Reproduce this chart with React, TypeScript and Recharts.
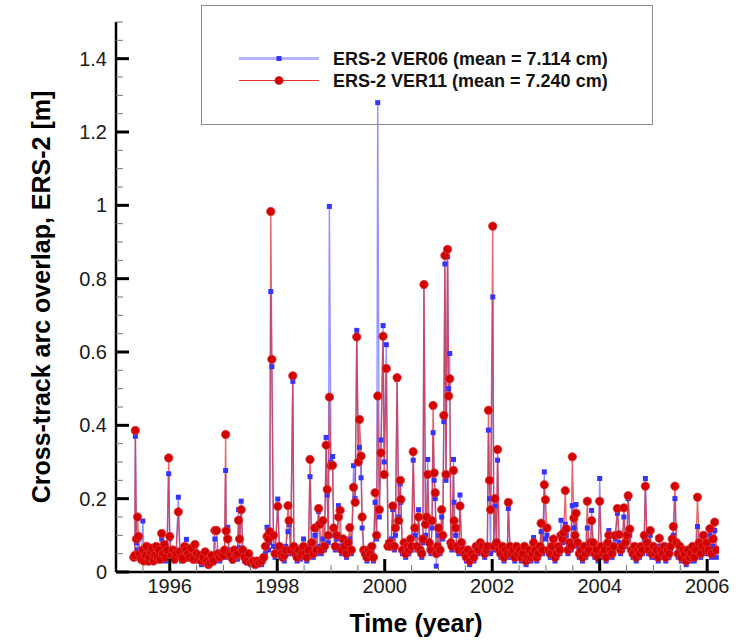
import React from 'react';
import { LineChart, Line, XAxis, YAxis, Label } from 'recharts';

// observation epochs (decimal year), one row per year
const years = [
  1995.33, 1995.35, 1995.36, 1995.38, 1995.40, 1995.42, 1995.44, 1995.47, 1995.50, 1995.52, 1995.55, 1995.57, 1995.60, 1995.62, 1995.65, 1995.67, 1995.70, 1995.72, 1995.75, 1995.77, 1995.80, 1995.82, 1995.85, 1995.87, 1995.90, 1995.92, 1995.95, 1995.98,
  1996.00, 1996.03, 1996.06, 1996.09, 1996.12, 1996.16, 1996.19, 1996.22, 1996.25, 1996.28, 1996.31, 1996.34, 1996.37, 1996.40, 1996.44, 1996.47, 1996.50, 1996.53, 1996.56, 1996.59, 1996.62, 1996.66, 1996.69, 1996.72, 1996.75, 1996.78, 1996.81, 1996.84, 1996.87, 1996.90, 1996.93, 1996.96,
  1997.00, 1997.02, 1997.04, 1997.05, 1997.08, 1997.11, 1997.14, 1997.17, 1997.20, 1997.23, 1997.26, 1997.28, 1997.30, 1997.33, 1997.36, 1997.39, 1997.43, 1997.47, 1997.51, 1997.55, 1997.59, 1997.63, 1997.67, 1997.71, 1997.75, 1997.78, 1997.81, 1997.84, 1997.86, 1997.88, 1997.90, 1997.93, 1997.96,
  1998.01, 1998.04, 1998.07, 1998.10, 1998.13, 1998.16, 1998.20, 1998.22, 1998.25, 1998.29, 1998.31, 1998.34, 1998.37, 1998.40, 1998.43, 1998.46, 1998.49, 1998.52, 1998.55, 1998.58, 1998.61, 1998.64, 1998.67, 1998.70, 1998.73, 1998.77, 1998.79, 1998.82, 1998.85, 1998.88, 1998.91, 1998.93, 1998.95, 1998.97,
  1999.00, 1999.03, 1999.05, 1999.08, 1999.11, 1999.14, 1999.17, 1999.20, 1999.23, 1999.26, 1999.29, 1999.32, 1999.35, 1999.38, 1999.42, 1999.45, 1999.48, 1999.51, 1999.53, 1999.56, 1999.58, 1999.61, 1999.64, 1999.67, 1999.70, 1999.73, 1999.76, 1999.79, 1999.82, 1999.85, 1999.87, 1999.90, 1999.93, 1999.97, 1999.99,
  2000.03, 2000.06, 2000.09, 2000.12, 2000.15, 2000.18, 2000.20, 2000.23, 2000.26, 2000.29, 2000.30, 2000.33, 2000.36, 2000.39, 2000.42, 2000.45, 2000.48, 2000.50, 2000.53, 2000.56, 2000.60, 2000.63, 2000.66, 2000.69, 2000.71, 2000.73, 2000.76, 2000.78, 2000.80, 2000.83, 2000.86, 2000.88, 2000.90, 2000.92, 2000.94, 2000.96, 2000.98,
  2001.00, 2001.03, 2001.06, 2001.08, 2001.10, 2001.12, 2001.14, 2001.17, 2001.19, 2001.21, 2001.23, 2001.25, 2001.28, 2001.29, 2001.32, 2001.35, 2001.38, 2001.40, 2001.43, 2001.46, 2001.49, 2001.52, 2001.55, 2001.58, 2001.62, 2001.66, 2001.70, 2001.74, 2001.78, 2001.82, 2001.86, 2001.89, 2001.91, 2001.93, 2001.95, 2001.97,
  2002.01, 2002.03, 2002.05, 2002.08, 2002.10, 2002.13, 2002.16, 2002.19, 2002.22, 2002.25, 2002.28, 2002.30, 2002.33, 2002.36, 2002.39, 2002.42, 2002.45, 2002.48, 2002.51, 2002.54, 2002.57, 2002.60, 2002.63, 2002.66, 2002.69, 2002.72, 2002.75, 2002.77, 2002.80, 2002.83, 2002.86, 2002.89, 2002.91, 2002.94, 2002.97, 2002.99,
  2003.02, 2003.05, 2003.08, 2003.11, 2003.14, 2003.17, 2003.20, 2003.23, 2003.26, 2003.28, 2003.31, 2003.33, 2003.36, 2003.38, 2003.41, 2003.44, 2003.47, 2003.49, 2003.52, 2003.54, 2003.56, 2003.59, 2003.62, 2003.65, 2003.68, 2003.71, 2003.74, 2003.77, 2003.80, 2003.83, 2003.85, 2003.88, 2003.91, 2003.94, 2003.97,
  2004.00, 2004.03, 2004.06, 2004.09, 2004.12, 2004.15, 2004.17, 2004.20, 2004.23, 2004.26, 2004.29, 2004.33, 2004.36, 2004.39, 2004.42, 2004.45, 2004.48, 2004.51, 2004.53, 2004.56, 2004.59, 2004.62, 2004.65, 2004.68, 2004.71, 2004.74, 2004.77, 2004.80, 2004.83, 2004.85, 2004.88, 2004.91, 2004.94, 2004.97,
  2005.00, 2005.03, 2005.06, 2005.09, 2005.11, 2005.14, 2005.17, 2005.20, 2005.23, 2005.26, 2005.29, 2005.32, 2005.35, 2005.37, 2005.40, 2005.43, 2005.46, 2005.49, 2005.52, 2005.55, 2005.58, 2005.61, 2005.64, 2005.67, 2005.70, 2005.73, 2005.76, 2005.79, 2005.82, 2005.85, 2005.88, 2005.91, 2005.93, 2005.96, 2005.99,
  2006.02, 2006.05, 2006.08, 2006.11, 2006.14, 2006.17,
];

// ERS-2 VER06 overlap [m]
const ver06 = [
  0.045, 0.04, 0.37, 0.08, 0.06, 0.09, 0.04, 0.03, 0.139, 0.05, 0.03, 0.06, 0.04, 0.025, 0.05, 0.07, 0.035, 0.03, 0.06, 0.045, 0.05, 0.03, 0.09, 0.04, 0.06, 0.03, 0.05, 0.268,
  0.09, 0.04, 0.05, 0.03, 0.06, 0.204, 0.05, 0.03, 0.04, 0.06, 0.089, 0.04, 0.035, 0.05, 0.03, 0.06, 0.045, 0.03, 0.04, 0.02, 0.035, 0.05, 0.025, 0.02, 0.03, 0.04, 0.025, 0.09, 0.05, 0.045, 0.03, 0.04,
  0.05, 0.04, 0.277, 0.09, 0.122, 0.04, 0.06, 0.03, 0.05, 0.04, 0.035, 0.17, 0.066, 0.193, 0.05, 0.03, 0.025, 0.04, 0.02, 0.03, 0.025, 0.02, 0.03, 0.02, 0.035, 0.05, 0.122, 0.06, 0.08, 0.765, 0.56, 0.07, 0.04,
  0.199, 0.06, 0.04, 0.05, 0.03, 0.07, 0.11, 0.13, 0.05, 0.52, 0.06, 0.04, 0.03, 0.05, 0.035, 0.04, 0.09, 0.04, 0.03, 0.05, 0.26, 0.06, 0.04, 0.1, 0.05, 0.165, 0.07, 0.05, 0.09, 0.06, 0.367, 0.21, 0.08, 0.997,
  0.3, 0.315, 0.1, 0.06, 0.09, 0.181, 0.07, 0.05, 0.08, 0.06, 0.04, 0.07, 0.09, 0.05, 0.29, 0.2, 0.659, 0.3, 0.34, 0.257, 0.12, 0.05, 0.04, 0.03, 0.05, 0.04, 0.06, 0.03, 0.19, 0.09, 1.28, 0.15, 0.36, 0.672, 0.3,
  0.62, 0.08, 0.07, 0.09, 0.17, 0.06, 0.1, 0.525, 0.15, 0.24, 0.19, 0.05, 0.07, 0.04, 0.06, 0.05, 0.08, 0.06, 0.305, 0.1, 0.06, 0.17, 0.05, 0.04, 0.08, 0.78, 0.1, 0.14, 0.307, 0.07, 0.05, 0.12, 0.38, 0.25, 0.2, 0.016, 0.06,
  0.1, 0.05, 0.15, 0.09, 0.41, 0.84, 0.25, 0.86, 0.5, 0.596, 0.08, 0.06, 0.307, 0.19, 0.1, 0.06, 0.05, 0.21, 0.07, 0.05, 0.04, 0.03, 0.05, 0.02, 0.04, 0.03, 0.06, 0.05, 0.07, 0.06, 0.04, 0.05, 0.06, 0.387, 0.2, 0.05,
  0.75, 0.06, 0.18, 0.07, 0.305, 0.05, 0.04, 0.06, 0.03, 0.05, 0.04, 0.173, 0.06, 0.04, 0.05, 0.03, 0.06, 0.04, 0.05, 0.03, 0.04, 0.06, 0.02, 0.03, 0.05, 0.03, 0.04, 0.094, 0.05, 0.03, 0.04, 0.06, 0.11, 0.05, 0.273, 0.09,
  0.1, 0.05, 0.04, 0.06, 0.05, 0.03, 0.04, 0.06, 0.05, 0.141, 0.08, 0.09, 0.13, 0.1, 0.05, 0.07, 0.06, 0.181, 0.12, 0.09, 0.184, 0.07, 0.04, 0.05, 0.03, 0.06, 0.04, 0.12, 0.05, 0.07, 0.168, 0.06, 0.04, 0.05, 0.03,
  0.255, 0.06, 0.04, 0.05, 0.03, 0.07, 0.113, 0.05, 0.04, 0.06, 0.09, 0.16, 0.08, 0.05, 0.06, 0.15, 0.07, 0.09, 0.2, 0.1, 0.05, 0.04, 0.06, 0.03, 0.05, 0.04, 0.06, 0.05, 0.09, 0.255, 0.07, 0.05, 0.1, 0.04,
  0.06, 0.04, 0.05, 0.03, 0.07, 0.05, 0.04, 0.06, 0.03, 0.05, 0.04, 0.06, 0.08, 0.1, 0.2, 0.05, 0.04, 0.06, 0.03, 0.05, 0.04, 0.02, 0.05, 0.03, 0.04, 0.06, 0.03, 0.05, 0.124, 0.07, 0.04, 0.06, 0.08, 0.05, 0.07,
  0.05, 0.1, 0.04, 0.07, 0.113, 0.04,
];

// ERS-2 VER11 overlap [m]
const ver11 = [
  0.04, 0.045, 0.386, 0.09, 0.15, 0.097, 0.05, 0.035, 0.06, 0.03, 0.045, 0.07, 0.03, 0.04, 0.055, 0.065, 0.03, 0.045, 0.07, 0.04, 0.06, 0.035, 0.105, 0.05, 0.075, 0.04, 0.06, 0.311,
  0.097, 0.045, 0.06, 0.035, 0.05, 0.164, 0.055, 0.04, 0.035, 0.07, 0.06, 0.05, 0.04, 0.065, 0.035, 0.075, 0.05, 0.035, 0.045, 0.03, 0.04, 0.055, 0.03, 0.02, 0.025, 0.045, 0.03, 0.113, 0.113, 0.05, 0.04, 0.05,
  0.045, 0.06, 0.375, 0.112, 0.09, 0.05, 0.045, 0.035, 0.06, 0.045, 0.05, 0.141, 0.09, 0.17, 0.06, 0.04, 0.03, 0.05, 0.025, 0.03, 0.02, 0.03, 0.025, 0.03, 0.04, 0.07, 0.097, 0.09, 0.11, 0.983, 0.58, 0.1, 0.05,
  0.179, 0.07, 0.05, 0.04, 0.045, 0.06, 0.181, 0.14, 0.06, 0.535, 0.07, 0.05, 0.04, 0.06, 0.045, 0.05, 0.07, 0.05, 0.04, 0.06, 0.307, 0.08, 0.05, 0.12, 0.06, 0.173, 0.13, 0.06, 0.14, 0.07, 0.346, 0.225, 0.1, 0.477,
  0.29, 0.291, 0.12, 0.07, 0.1, 0.15, 0.168, 0.06, 0.09, 0.07, 0.05, 0.08, 0.121, 0.06, 0.231, 0.19, 0.641, 0.3, 0.416, 0.316, 0.15, 0.06, 0.05, 0.04, 0.06, 0.05, 0.07, 0.04, 0.216, 0.1, 0.48, 0.17, 0.325, 0.643, 0.266,
  0.555, 0.07, 0.08, 0.07, 0.18, 0.07, 0.12, 0.53, 0.14, 0.25, 0.198, 0.06, 0.08, 0.05, 0.07, 0.06, 0.09, 0.07, 0.328, 0.12, 0.07, 0.15, 0.06, 0.05, 0.09, 0.784, 0.13, 0.15, 0.266, 0.08, 0.06, 0.14, 0.454, 0.27, 0.216, 0.05, 0.07,
  0.12, 0.06, 0.17, 0.1, 0.427, 0.863, 0.266, 0.88, 0.48, 0.527, 0.08, 0.07, 0.277, 0.14, 0.12, 0.07, 0.06, 0.18, 0.08, 0.06, 0.05, 0.04, 0.06, 0.03, 0.05, 0.04, 0.07, 0.06, 0.08, 0.07, 0.05, 0.06, 0.07, 0.441, 0.25, 0.17,
  0.943, 0.07, 0.2, 0.08, 0.334, 0.06, 0.05, 0.07, 0.04, 0.06, 0.05, 0.19, 0.07, 0.05, 0.06, 0.04, 0.07, 0.05, 0.06, 0.04, 0.05, 0.07, 0.03, 0.04, 0.06, 0.04, 0.05, 0.08, 0.06, 0.04, 0.05, 0.07, 0.133, 0.06, 0.238, 0.197,
  0.12, 0.06, 0.05, 0.07, 0.09, 0.04, 0.05, 0.07, 0.06, 0.1, 0.09, 0.107, 0.222, 0.118, 0.06, 0.08, 0.07, 0.314, 0.147, 0.1, 0.16, 0.08, 0.05, 0.06, 0.04, 0.07, 0.05, 0.193, 0.06, 0.08, 0.14, 0.08, 0.05, 0.06, 0.04,
  0.193, 0.07, 0.05, 0.06, 0.04, 0.08, 0.1, 0.06, 0.05, 0.07, 0.1, 0.173, 0.102, 0.06, 0.07, 0.175, 0.08, 0.1, 0.208, 0.117, 0.06, 0.05, 0.07, 0.04, 0.06, 0.05, 0.07, 0.06, 0.1, 0.234, 0.08, 0.06, 0.113, 0.05,
  0.07, 0.05, 0.06, 0.04, 0.092, 0.06, 0.05, 0.07, 0.04, 0.06, 0.05, 0.07, 0.09, 0.124, 0.234, 0.08, 0.05, 0.07, 0.04, 0.06, 0.05, 0.03, 0.06, 0.04, 0.05, 0.07, 0.04, 0.06, 0.204, 0.08, 0.05, 0.07, 0.1, 0.06, 0.08,
  0.06, 0.118, 0.05, 0.09, 0.136, 0.06,
];

const xTicks = [1995.5, 1996, 1996.5, 1997, 1997.5, 1998, 1998.5, 1999, 1999.5, 2000, 2000.5, 2001, 2001.5, 2002, 2002.5, 2003, 2003.5, 2004, 2004.5, 2005, 2005.5, 2006];
const xMajor = [1996, 1998, 2000, 2002, 2004, 2006];
const yTicks = [0, 0.05, 0.1, 0.15, 0.2, 0.25, 0.3, 0.35, 0.4, 0.45, 0.5, 0.55, 0.6, 0.65, 0.7, 0.75, 0.8, 0.85, 0.9, 0.95, 1, 1.05, 1.1, 1.15, 1.2, 1.25, 1.3, 1.35, 1.4, 1.45, 1.5];
const yMajor = [0, 0.2, 0.4, 0.6, 0.8, 1, 1.2, 1.4];

const legendNames = ['ERS-2 VER06 (mean = 7.114 cm)', 'ERS-2 VER11 (mean = 7.240 cm)'];

const FONT = '"Liberation Sans", Arial, Helvetica, sans-serif';
const BLUE_LINE = '#6f6fff';
const BLUE_DOT = '#3434ff';
const RED_LINE = '#dc2a2a';
const RED_DOT = '#d20000';

const data = years.map((t, i) => ({ t, v06: ver06[i], v11: ver11[i] }));

const XTick = ({ x, y, payload }: any) => {
  const major = xMajor.includes(payload.value);
  return (
    <g>
      <line x1={x} x2={x} y1={y} y2={y - (major ? 13 : 7)} stroke={major ? '#000' : '#777'} strokeWidth={major ? 3 : 1} />
      {major && (
        <text x={x} y={y + 21} textAnchor="middle" fontSize={20} fill="#1a1a1a" fontFamily={FONT}>
          {payload.value}
        </text>
      )}
    </g>
  );
};

const YTick = ({ x, y, payload }: any) => {
  const major = yMajor.includes(payload.value);
  return (
    <g>
      <line x1={x} x2={x + (major ? 13 : 7)} y1={y} y2={y} stroke={major ? '#000' : '#777'} strokeWidth={major ? 3 : 1} />
      {major && (
        <text x={x - 9} y={y + 7} textAnchor="end" fontSize={20} fill="#1a1a1a" fontFamily={FONT}>
          {String(payload.value)}
        </text>
      )}
    </g>
  );
};

const blueDot = (p: any) => {
  if (p.cx == null || p.cy == null) return <g key={`b${p.index}`} />;
  return <rect key={`b${p.index}`} x={p.cx - 2.5} y={p.cy - 2.5} width={5} height={5} fill={BLUE_DOT} />;
};

const redDot = (p: any) => {
  if (p.cx == null || p.cy == null) return <g key={`r${p.index}`} />;
  return <circle key={`r${p.index}`} cx={p.cx} cy={p.cy} r={4.2} fill={RED_DOT} stroke="#e03a3a" strokeWidth={0.8} />;
};

export default function App() {
  return (
    <div style={{ position: 'absolute', left: 0, top: 0, width: 741, height: 640, background: '#fff' }}>
      <LineChart width={741} height={640} data={data} margin={{ top: 22, right: 22, bottom: 0, left: 110 }}>
        <Line
          dataKey="v06"
          type="linear"
          stroke={BLUE_LINE}
          strokeOpacity={0.75}
          strokeWidth={1.4}
          dot={blueDot}
          activeDot={false}
          isAnimationActive={false}
        />
        <Line
          dataKey="v11"
          type="linear"
          stroke={RED_LINE}
          strokeOpacity={0.7}
          strokeWidth={1.4}
          dot={redDot}
          activeDot={false}
          isAnimationActive={false}
        />
        <XAxis
          dataKey="t"
          type="number"
          domain={[1995, 2006.22]}
          ticks={xTicks}
          interval={0}
          tickSize={0}
          tickMargin={0}
          tickLine={false}
          tick={<XTick />}
          height={68}
          axisLine={{ stroke: '#000', strokeWidth: 2.5 }}
          allowDataOverflow
        >
          <Label
            content={() => (
              <text x={416} y={632} textAnchor="middle" fontSize={25} fontWeight="bold" fill="#000" fontFamily={FONT}>
                Time (year)
              </text>
            )}
          />
        </XAxis>
        <YAxis
          type="number"
          domain={[0, 1.5]}
          ticks={yTicks}
          interval={0}
          tickSize={0}
          tickMargin={0}
          tickLine={false}
          tick={<YTick />}
          width={6}
          axisLine={{ stroke: '#000', strokeWidth: 2.5 }}
          allowDataOverflow
        >
          <Label
            content={() => (
              <text
                x={50}
                y={297}
                textAnchor="middle"
                fontSize={25}
                fontWeight="bold"
                fill="#000"
                fontFamily={FONT}
                transform="rotate(-90 50 297)"
              >
                Cross-track arc overlap, ERS-2 [m]
              </text>
            )}
          />
        </YAxis>
      </LineChart>
      <svg width={741} height={130} style={{ position: 'absolute', left: 0, top: 0, pointerEvents: 'none' }}>
        <rect x={201.5} y={5.5} width={451} height={119} fill="none" stroke="#8a8a8a" strokeWidth={1} />
        <line x1={239} x2={319} y1={58.5} y2={58.5} stroke="#b4b4ff" strokeWidth={3} />
        <rect x={276.5} y={56} width={5} height={5} fill={BLUE_DOT} />
        <line x1={239} x2={319} y1={80.5} y2={80.5} stroke="#ee3030" strokeWidth={1.2} />
        <circle cx={279} cy={80.5} r={4.3} fill={RED_DOT} />
        <text x={333} y={65} fontSize={18} fontWeight="bold" fill="#111" fontFamily={FONT}>
          {legendNames[0]}
        </text>
        <text x={333} y={87} fontSize={18} fontWeight="bold" fill="#111" fontFamily={FONT}>
          {legendNames[1]}
        </text>
      </svg>
    </div>
  );
}
